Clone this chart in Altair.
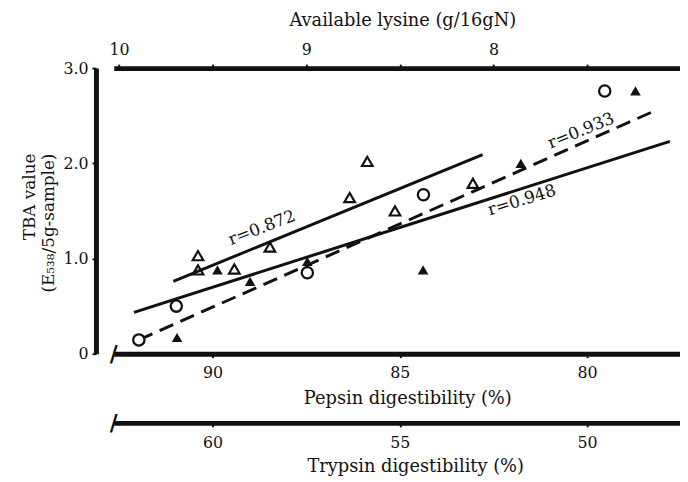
import altair as alt
import pandas as pd

# ---------------- data ----------------
circle_pepsin = [91.97, 90.97, 87.47, 84.37, 79.53]
circle_tba = [0.145, 0.50, 0.85, 1.67, 2.76]

open_tri_pepsin = [90.39, 90.39, 89.42, 88.47, 86.34, 85.87, 85.13, 83.05]
open_tri_tba = [1.03, 0.88, 0.89, 1.12, 1.64, 2.02, 1.50, 1.79]

filled_tri_pepsin = [90.95, 89.87, 89.00, 87.47, 84.38, 81.77, 78.71]
filled_tri_tba = [0.17, 0.88, 0.76, 0.97, 0.88, 2.00, 2.76]

# regression lines: end points (pepsin, TBA)
fit_open_tri_pepsin = [91.05, 82.79]
fit_open_tri_tba = [0.76, 2.09]
fit_all_pepsin = [92.10, 77.79]
fit_all_tba = [0.435, 2.23]
fit_dashed_pepsin = [91.97, 78.26]
fit_dashed_tba = [0.145, 2.54]

# correlation labels
lab_872 = ("r=0.872", 88.68, 1.32)
lab_933 = ("r=0.933", 80.16, 2.34)
lab_948 = ("r=0.948", 81.74, 1.61)

# axes
pepsin_ticks = [90, 85, 80]
trypsin_ticks = [60, 55, 50]
lysine_ticks = [10, 9.5, 9, 8.5, 8, 7.5, 7]
tba_ticks = [0, 1, 2, 3]

pepsin_domain = [92.64, 77.52]
trypsin_domain = [62.64, 47.52]
lysine_domain = [10.028, 7.004]
tba_domain = [0, 3]

FONT = "DejaVu Serif"
INK = "#111111"

xs = alt.Scale(domain=pepsin_domain, nice=False, zero=False)
ys = alt.Scale(domain=tba_domain, nice=False, zero=False)

axis_common = dict(
    domainColor=INK, domainWidth=5, tickColor=INK, tickWidth=2, tickSize=4,
    labelFont=FONT, labelFontSize=16, labelColor=INK,
    titleFont=FONT, titleFontSize=18, titleFontWeight="normal", titleColor=INK,
    grid=False,
)

x_axis = alt.Axis(orient="bottom", values=pepsin_ticks, title="Pepsin digestibility (%)",
                  labelPadding=7, titlePadding=9, titleX=297, format="d", **axis_common)
y_axis = alt.Axis(orient="left", values=tba_ticks, offset=18,
                  labelExpr="datum.value == 0 ? '0' : format(datum.value, '.1f')",
                  title=["TBA value", "(E\u2085\u2083\u2088/5g-sample)"],
                  titleAlign="right", titleY=86, titleLineHeight=20, titlePadding=5,
                  labelPadding=4, **{**axis_common, "titleFontSize": 17})

df_c = pd.DataFrame({"pepsin": circle_pepsin, "tba": circle_tba})
df_ot = pd.DataFrame({"pepsin": open_tri_pepsin, "tba": open_tri_tba})
df_ft = pd.DataFrame({"pepsin": filled_tri_pepsin, "tba": filled_tri_tba})
df_l1 = pd.DataFrame({"pepsin": fit_open_tri_pepsin, "tba": fit_open_tri_tba})
df_l2 = pd.DataFrame({"pepsin": fit_all_pepsin, "tba": fit_all_tba})
df_l3 = pd.DataFrame({"pepsin": fit_dashed_pepsin, "tba": fit_dashed_tba})

enc = dict(x=alt.X("pepsin:Q", scale=xs), y=alt.Y("tba:Q", scale=ys))

line1 = alt.Chart(df_l1).mark_line(color=INK, strokeWidth=3).encode(
    x=alt.X("pepsin:Q", scale=xs, axis=x_axis), y=alt.Y("tba:Q", scale=ys, axis=y_axis))
line2 = alt.Chart(df_l2).mark_line(color=INK, strokeWidth=3).encode(**enc)
line3 = alt.Chart(df_l3).mark_line(color=INK, strokeWidth=3, strokeDash=[15, 8]).encode(**enc)

pts_c = alt.Chart(df_c).mark_point(shape="circle", filled=False, size=130, strokeWidth=2.3,
                                   color=INK, fill="white", fillOpacity=1, opacity=1).encode(**enc)
pts_ot = alt.Chart(df_ot).mark_point(shape="triangle-up", filled=False, size=115, strokeWidth=2.2,
                                     color=INK, opacity=1).encode(**enc)
pts_ft = alt.Chart(df_ft).mark_point(shape="triangle-up", filled=True, size=115, color=INK,
                                     opacity=1).encode(**enc)


def rlabel(lab, angle):
    d = pd.DataFrame({"txt": [lab[0]], "pepsin": [lab[1]], "tba": [lab[2]]})
    return alt.Chart(d).mark_text(font=FONT, fontSize=17, color=INK, angle=angle,
                                  align="center", baseline="middle").encode(text="txt:N", **enc)


t1 = rlabel(lab_872, 339)
t2 = rlabel(lab_933, 338)
t3 = rlabel(lab_948, 343)

slash1 = alt.Chart().mark_text(text="/", font=FONT, fontSize=22, fontWeight="bold", color=INK).encode(
    x=alt.datum(pepsin_domain[0], scale=xs), y=alt.datum(0, scale=ys))
slash2 = alt.Chart().mark_text(text="/", font=FONT, fontSize=22, fontWeight="bold", color=INK, dy=70).encode(
    x=alt.datum(pepsin_domain[0], scale=xs), y=alt.datum(0, scale=ys))

main = alt.layer(line1, line2, line3, pts_c, pts_ot, pts_ft, t1, t2, t3, slash1, slash2)

lys_df = pd.DataFrame({"lysine": lysine_ticks})
lys = alt.Chart(lys_df).mark_point(opacity=0).encode(
    x=alt.X("lysine:Q", scale=alt.Scale(domain=lysine_domain, nice=False, zero=False),
            axis=alt.Axis(orient="top", values=lysine_ticks,
                          labelExpr="datum.value % 1 === 0 ? format(datum.value, 'd') : ''",
                          title="Available lysine (g/16gN)", labelPadding=7, titlePadding=12,
                          titleX=292, **axis_common)))

tryp_df = pd.DataFrame({"trypsin": trypsin_ticks})
tryp = alt.Chart(tryp_df).mark_point(opacity=0).encode(
    x=alt.X("trypsin:Q", scale=alt.Scale(domain=trypsin_domain, nice=False, zero=False),
            axis=alt.Axis(orient="bottom", offset=70, values=trypsin_ticks, format="d",
                          title="Trypsin digestibility (%)", labelPadding=8, titlePadding=7,
                          titleX=305, **axis_common)))

chart = alt.layer(main, lys, tryp).resolve_scale(x="independent").properties(
    width=573, height=289,
    autosize=alt.AutoSizeParams(type="none"),
    padding={"left": 107, "top": 58, "right": 0, "bottom": 127},
    background="white",
).configure_view(strokeWidth=0)

chart.save("out.html", embed_options={"renderer": "svg", "actions": False})
